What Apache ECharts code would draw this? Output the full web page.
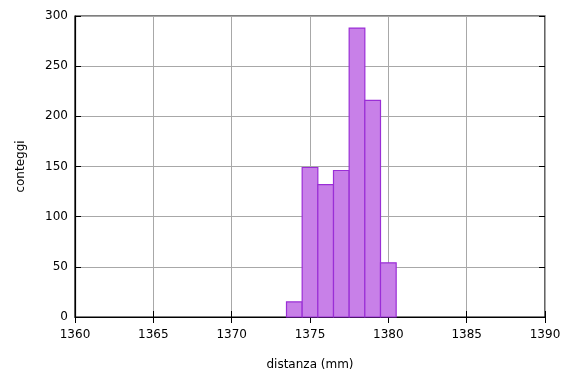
<!DOCTYPE html>
<html><head><meta charset="utf-8">
<script src="https://cdn.jsdelivr.net/npm/echarts@6/dist/echarts.min.js"></script>
<style>html,body{margin:0;padding:0;background:#fff}#c{width:573px;height:374px}</style>
</head><body><div id="c"></div>
<script>
var binCenters = [1374, 1375, 1376, 1377, 1378, 1379, 1380];
var counts = [15, 149, 132, 146, 288, 216, 54];
var binWidth = 1;
var xTicks = [1360, 1365, 1370, 1375, 1380, 1385, 1390];
var yTicks = [0, 50, 100, 150, 200, 250, 300];

var data = binCenters.map(function (c, i) { return [c, counts[i]]; });
var font = 'DejaVu Sans';
var chart = echarts.init(document.getElementById('c'));
var tickStyle = { show: true, inside: true, length: 6, lineStyle: { color: '#000', width: 1 } };
chart.setOption({
  animation: false,
  grid: { left: 75, right: 28, top: 16, bottom: 57, show: true, borderColor: '#000', borderWidth: 1.2,
          containLabel: false, outerBoundsMode: 'none' },
  xAxis: [{
    type: 'value', min: xTicks[0], max: xTicks[xTicks.length - 1], interval: 5,
    name: 'distanza (mm)', nameLocation: 'middle', nameGap: 42,
    nameTextStyle: { fontFamily: font, fontSize: 12, color: '#000' },
    axisLine: { show: true, lineStyle: { color: '#000', width: 1.2 } },
    axisTick: tickStyle,
    axisLabel: { fontFamily: font, fontSize: 12, color: '#000', margin: 12, formatter: function (v) { return String(v); } },
    splitLine: { show: true, lineStyle: { color: '#a8a8a8', width: 1 } }
  }, {
    type: 'value', position: 'top', min: xTicks[0], max: xTicks[xTicks.length - 1], interval: 5,
    axisLine: { show: false }, axisTick: tickStyle, axisLabel: { show: false }, splitLine: { show: false }
  }],
  yAxis: [{
    type: 'value', min: yTicks[0], max: yTicks[yTicks.length - 1], interval: 50,
    name: 'conteggi', nameLocation: 'middle', nameGap: 48, nameRotate: 90,
    nameTextStyle: { fontFamily: font, fontSize: 12, color: '#000' },
    axisLine: { show: true, lineStyle: { color: '#000', width: 1.2 } },
    axisTick: tickStyle,
    axisLabel: { fontFamily: font, fontSize: 12, color: '#000', margin: 7 },
    splitLine: { show: true, lineStyle: { color: '#a8a8a8', width: 1 } }
  }, {
    type: 'value', position: 'right', min: yTicks[0], max: yTicks[yTicks.length - 1], interval: 50,
    axisLine: { show: false }, axisTick: tickStyle, axisLabel: { show: false }, splitLine: { show: false }
  }],
  series: [{
    type: 'custom',
    data: data,
    renderItem: function (params, api) {
      var x = api.value(0), y = api.value(1);
      var p0 = api.coord([x - binWidth / 2, y]);
      var p1 = api.coord([x + binWidth / 2, 0]);
      return {
        type: 'rect',
        shape: { x: p0[0], y: p0[1], width: p1[0] - p0[0], height: p1[1] - p0[1] },
        style: { fill: '#c880e8', stroke: '#9a2ed6', lineWidth: 1.2 }
      };
    },
    encode: { x: 0, y: 1 },
    z: 3
  }]
});
</script></body></html>
